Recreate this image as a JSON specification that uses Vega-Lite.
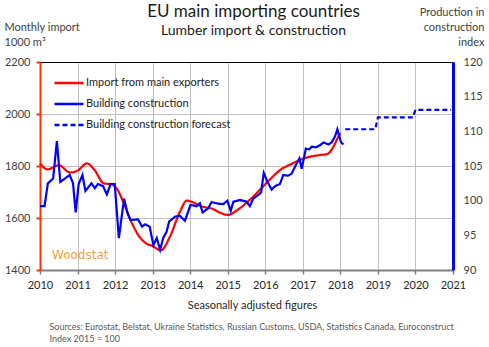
{
  "$schema": "https://vega.github.io/schema/vega-lite/v6.json",
  "width": 413,
  "height": 208,
  "autosize": "none",
  "padding": {"left": 40, "top": 62, "right": 36, "bottom": 77},
  "title": {
    "text": "EU main importing countries",
    "subtitle": "Lumber import & construction",
    "fontSize": 17,
    "subtitleFontSize": 14,
    "fontWeight": "normal",
    "color": "#1a1a1a",
    "subtitleColor": "#1a1a1a",
    "anchor": "middle",
    "frame": "group",
    "dx": 7,
    "dy": 37,
    "subtitlePadding": 3
  },
  "config": {
    "font": "Lato",
    "view": {"stroke": "#000000", "strokeWidth": 1},
    "legend": {
      "orient": "none",
      "legendX": 13,
      "legendY": 5,
      "symbolType": "stroke",
      "symbolSize": 841,
      "symbolStrokeWidth": 2.5,
      "labelFontSize": 11,
      "labelColor": "#222222",
      "labelOffset": 1,
      "rowPadding": -8,
      "padding": 0,
      "title": null
    }
  },
  "datasets": {
    "imp": [
      {"s": "Import from main exporters", "t": 2010.0, "v": 1810},
      {"s": "Import from main exporters", "t": 2010.2, "v": 1787},
      {"s": "Import from main exporters", "t": 2010.5, "v": 1803},
      {"s": "Import from main exporters", "t": 2010.8, "v": 1775},
      {"s": "Import from main exporters", "t": 2011.0, "v": 1782},
      {"s": "Import from main exporters", "t": 2011.25, "v": 1810},
      {"s": "Import from main exporters", "t": 2011.45, "v": 1785},
      {"s": "Import from main exporters", "t": 2011.7, "v": 1733},
      {"s": "Import from main exporters", "t": 2011.9, "v": 1730},
      {"s": "Import from main exporters", "t": 2012.05, "v": 1712},
      {"s": "Import from main exporters", "t": 2012.25, "v": 1650},
      {"s": "Import from main exporters", "t": 2012.45, "v": 1580},
      {"s": "Import from main exporters", "t": 2012.6, "v": 1538},
      {"s": "Import from main exporters", "t": 2012.8, "v": 1505},
      {"s": "Import from main exporters", "t": 2013.0, "v": 1492},
      {"s": "Import from main exporters", "t": 2013.22, "v": 1476},
      {"s": "Import from main exporters", "t": 2013.46, "v": 1528},
      {"s": "Import from main exporters", "t": 2013.73, "v": 1625},
      {"s": "Import from main exporters", "t": 2013.91, "v": 1667},
      {"s": "Import from main exporters", "t": 2014.08, "v": 1660},
      {"s": "Import from main exporters", "t": 2014.3, "v": 1645},
      {"s": "Import from main exporters", "t": 2014.6, "v": 1635},
      {"s": "Import from main exporters", "t": 2014.8, "v": 1620},
      {"s": "Import from main exporters", "t": 2015.0, "v": 1612},
      {"s": "Import from main exporters", "t": 2015.25, "v": 1630},
      {"s": "Import from main exporters", "t": 2015.55, "v": 1665},
      {"s": "Import from main exporters", "t": 2015.9, "v": 1715},
      {"s": "Import from main exporters", "t": 2016.15, "v": 1752},
      {"s": "Import from main exporters", "t": 2016.4, "v": 1785},
      {"s": "Import from main exporters", "t": 2016.7, "v": 1808},
      {"s": "Import from main exporters", "t": 2016.95, "v": 1825},
      {"s": "Import from main exporters", "t": 2017.2, "v": 1836},
      {"s": "Import from main exporters", "t": 2017.45, "v": 1842},
      {"s": "Import from main exporters", "t": 2017.65, "v": 1846},
      {"s": "Import from main exporters", "t": 2017.8, "v": 1870},
      {"s": "Import from main exporters", "t": 2017.92, "v": 1905},
      {"s": "Import from main exporters", "t": 2018.0, "v": 1926}
    ],
    "idx": [
      {"s": "Building construction", "t": 2010.0, "v": 99.2},
      {"s": "Building construction", "t": 2010.12, "v": 99.2},
      {"s": "Building construction", "t": 2010.21, "v": 102.5},
      {"s": "Building construction", "t": 2010.35, "v": 103.2},
      {"s": "Building construction", "t": 2010.45, "v": 108.6},
      {"s": "Building construction", "t": 2010.54, "v": 102.7},
      {"s": "Building construction", "t": 2010.79, "v": 103.7},
      {"s": "Building construction", "t": 2010.88, "v": 102.5},
      {"s": "Building construction", "t": 2010.95, "v": 98.3},
      {"s": "Building construction", "t": 2011.03, "v": 102.4},
      {"s": "Building construction", "t": 2011.13, "v": 103.7},
      {"s": "Building construction", "t": 2011.21, "v": 101.4},
      {"s": "Building construction", "t": 2011.37, "v": 102.5},
      {"s": "Building construction", "t": 2011.46, "v": 101.8},
      {"s": "Building construction", "t": 2011.54, "v": 102.4},
      {"s": "Building construction", "t": 2011.68, "v": 102.1},
      {"s": "Building construction", "t": 2011.78, "v": 100.9},
      {"s": "Building construction", "t": 2011.88, "v": 102.4},
      {"s": "Building construction", "t": 2011.99, "v": 102.4},
      {"s": "Building construction", "t": 2012.1, "v": 94.6},
      {"s": "Building construction", "t": 2012.24, "v": 100.3},
      {"s": "Building construction", "t": 2012.33, "v": 98.2},
      {"s": "Building construction", "t": 2012.41, "v": 97.2},
      {"s": "Building construction", "t": 2012.61, "v": 97.3},
      {"s": "Building construction", "t": 2012.72, "v": 96.25},
      {"s": "Building construction", "t": 2012.8, "v": 96.6},
      {"s": "Building construction", "t": 2012.92, "v": 96.25},
      {"s": "Building construction", "t": 2013.02, "v": 93.6},
      {"s": "Building construction", "t": 2013.11, "v": 94.6},
      {"s": "Building construction", "t": 2013.2, "v": 92.9},
      {"s": "Building construction", "t": 2013.28, "v": 94.6},
      {"s": "Building construction", "t": 2013.37, "v": 95.5},
      {"s": "Building construction", "t": 2013.44, "v": 97.0},
      {"s": "Building construction", "t": 2013.6, "v": 97.7},
      {"s": "Building construction", "t": 2013.73, "v": 97.8},
      {"s": "Building construction", "t": 2013.86, "v": 97.1},
      {"s": "Building construction", "t": 2014.01, "v": 99.4},
      {"s": "Building construction", "t": 2014.17, "v": 99.2},
      {"s": "Building construction", "t": 2014.26, "v": 99.6},
      {"s": "Building construction", "t": 2014.33, "v": 98.3},
      {"s": "Building construction", "t": 2014.48, "v": 98.9},
      {"s": "Building construction", "t": 2014.57, "v": 99.8},
      {"s": "Building construction", "t": 2014.71, "v": 99.6},
      {"s": "Building construction", "t": 2014.88, "v": 99.5},
      {"s": "Building construction", "t": 2014.99, "v": 100.0},
      {"s": "Building construction", "t": 2015.08, "v": 98.55},
      {"s": "Building construction", "t": 2015.15, "v": 99.85},
      {"s": "Building construction", "t": 2015.33, "v": 100.1},
      {"s": "Building construction", "t": 2015.5, "v": 99.85},
      {"s": "Building construction", "t": 2015.59, "v": 99.2},
      {"s": "Building construction", "t": 2015.68, "v": 100.3},
      {"s": "Building construction", "t": 2015.81, "v": 100.8},
      {"s": "Building construction", "t": 2015.89, "v": 101.2},
      {"s": "Building construction", "t": 2015.96, "v": 104.0},
      {"s": "Building construction", "t": 2016.06, "v": 102.7},
      {"s": "Building construction", "t": 2016.17, "v": 101.6},
      {"s": "Building construction", "t": 2016.26, "v": 102.1},
      {"s": "Building construction", "t": 2016.39, "v": 102.4},
      {"s": "Building construction", "t": 2016.48, "v": 103.7},
      {"s": "Building construction", "t": 2016.61, "v": 103.6},
      {"s": "Building construction", "t": 2016.7, "v": 103.9},
      {"s": "Building construction", "t": 2016.84, "v": 105.4},
      {"s": "Building construction", "t": 2016.91, "v": 106.1},
      {"s": "Building construction", "t": 2016.97, "v": 104.6},
      {"s": "Building construction", "t": 2017.08, "v": 107.5},
      {"s": "Building construction", "t": 2017.17, "v": 107.4},
      {"s": "Building construction", "t": 2017.24, "v": 107.8},
      {"s": "Building construction", "t": 2017.35, "v": 107.7},
      {"s": "Building construction", "t": 2017.46, "v": 108.0},
      {"s": "Building construction", "t": 2017.55, "v": 108.4},
      {"s": "Building construction", "t": 2017.68, "v": 108.1},
      {"s": "Building construction", "t": 2017.77, "v": 108.4},
      {"s": "Building construction", "t": 2017.86, "v": 109.3},
      {"s": "Building construction", "t": 2017.92, "v": 110.3},
      {"s": "Building construction", "t": 2017.97, "v": 109.3},
      {"s": "Building construction", "t": 2018.02, "v": 108.4},
      {"s": "Building construction", "t": 2018.08, "v": 108.1},
      {"s": "Building construction forecast", "t": 2018.13, "v": 110.3},
      {"s": "Building construction forecast", "t": 2018.93, "v": 110.3},
      {"s": "Building construction forecast", "t": 2019.0, "v": 112.0},
      {"s": "Building construction forecast", "t": 2019.93, "v": 112.0},
      {"s": "Building construction forecast", "t": 2020.0, "v": 113.1},
      {"s": "Building construction forecast", "t": 2020.95, "v": 113.1}
    ],
    "brand": [
      {"t": 2010.32, "v": 1458, "label": "Woodstat"}
    ]
  },
  "layer": [
    {
      "layer": [
        {
          "data": {"name": "imp"},
          "mark": {"type": "line", "interpolate": "monotone", "strokeWidth": 2.2},
          "encoding": {
            "x": {
              "field": "t", "type": "quantitative",
              "scale": {"domain": [2010, 2021], "nice": false, "zero": false},
              "axis": {
                "orient": "bottom",
                "values": [2010, 2011, 2012, 2013, 2014, 2015, 2016, 2017, 2018, 2019, 2020, 2021],
                "format": "d",
                "labelOverlap": false,
                "grid": true, "gridColor": "#c0c0c0", "gridWidth": 1,
                "domainColor": "#808080", "domainWidth": 2,
                "tickColor": "#808080", "tickSize": 4, "tickWidth": 1.5,
                "labelFontSize": 11, "labelColor": "#262626", "labelPadding": 5,
                "labelFlush": false,
                "title": "Seasonally adjusted figures",
                "titleFontSize": 11, "titleFontWeight": "normal", "titleColor": "#262626",
                "titleX": 212, "titleY": 35, "titleBaseline": "middle", "titleAnchor": null
              }
            },
            "y": {
              "field": "v", "type": "quantitative",
              "scale": {"domain": [1400, 2200], "nice": false, "zero": false},
              "axis": {
                "orient": "left",
                "values": [1400, 1600, 1800, 2000, 2200],
                "format": "d",
                "grid": true,
                "gridColor": {"condition": {"test": "datum.value == 2200", "value": "#000000"}, "value": "#c0c0c0"},
                "gridWidth": 1,
                "domainColor": "#ff3300", "domainWidth": 2,
                "tickColor": "#ff3300", "tickSize": 4, "tickWidth": 2,
                "labelFontSize": 11, "labelColor": "#404040", "labelPadding": 6,
                "labelFlush": false,
                "title": ["Monthly import", "1000 m³"],
                "titleAngle": 0, "titleAlign": "left", "titleBaseline": "middle",
                "titleX": -36, "titleY": -35, "titleLineHeight": 15,
                "titleFontSize": 11, "titleFontWeight": "normal", "titleColor": "#404040"
              }
            },
            "color": {
              "field": "s", "type": "nominal",
              "scale": {
                "domain": ["Import from main exporters", "Building construction", "Building construction forecast"],
                "range": ["#ff0000", "#0000ff", "#0000ff"]
              },
              "legend": {"title": null}
            },
            "strokeDash": {
              "field": "s", "type": "nominal",
              "scale": {
                "domain": ["Import from main exporters", "Building construction", "Building construction forecast"],
                "range": [[1, 0], [1, 0], [5, 3]]
              },
              "legend": {"title": null}
            }
          }
        },
        {
          "data": {"name": "brand"},
          "mark": {"type": "text", "align": "left", "baseline": "middle", "color": "#f5a030", "fontSize": 12, "font": "DejaVu Sans"},
          "encoding": {
            "x": {
              "field": "t", "type": "quantitative",
              "axis": {
                "orient": "bottom",
                "values": [2010, 2011, 2012, 2013, 2014, 2015, 2016, 2017, 2018, 2019, 2020, 2021],
                "format": "d",
                "labelOverlap": false,
                "grid": true, "gridColor": "#c0c0c0", "gridWidth": 1,
                "domainColor": "#808080", "domainWidth": 2,
                "tickColor": "#808080", "tickSize": 4, "tickWidth": 1.5,
                "labelFontSize": 11, "labelColor": "#262626", "labelPadding": 5,
                "labelFlush": false,
                "title": "Seasonally adjusted figures",
                "titleFontSize": 11, "titleFontWeight": "normal", "titleColor": "#262626",
                "titleX": 212, "titleY": 35, "titleBaseline": "middle", "titleAnchor": null
              }
            },
            "y": {
              "field": "v", "type": "quantitative",
              "axis": {
                "orient": "left",
                "values": [1400, 1600, 1800, 2000, 2200],
                "format": "d",
                "grid": true,
                "gridColor": {"condition": {"test": "datum.value == 2200", "value": "#000000"}, "value": "#c0c0c0"},
                "gridWidth": 1,
                "domainColor": "#ff3300", "domainWidth": 2,
                "tickColor": "#ff3300", "tickSize": 4, "tickWidth": 2,
                "labelFontSize": 11, "labelColor": "#404040", "labelPadding": 6,
                "labelFlush": false,
                "title": ["Monthly import", "1000 m³"],
                "titleAngle": 0, "titleAlign": "left", "titleBaseline": "middle",
                "titleX": -36, "titleY": -35, "titleLineHeight": 15,
                "titleFontSize": 11, "titleFontWeight": "normal", "titleColor": "#404040"
              }
            },
            "text": {"field": "label"}
          }
        }
      ]
    },
    {
      "data": {"name": "idx"},
      "mark": {"type": "line", "strokeWidth": 2.2},
      "encoding": {
        "x": {
          "field": "t", "type": "quantitative",
          "axis": {
            "orient": "bottom",
            "labels": false, "ticks": false, "domain": false, "grid": false,
            "title": ["Sources: Eurostat, Belstat, Ukraine Statistics, Russian Customs, USDA, Statistics Canada, Euroconstruct", "Index 2015 = 100"],
            "titleAlign": "left", "titleAnchor": null, "titleX": 9, "titleY": 56,
            "titleBaseline": "middle", "titleLineHeight": 12,
            "titleFontSize": 9, "titleFontWeight": "normal", "titleColor": "#595959"
          }
        },
        "y": {
          "field": "v", "type": "quantitative",
          "scale": {"domain": [90, 120], "nice": false, "zero": false},
          "axis": {
            "orient": "right",
            "values": [90, 95, 100, 105, 110, 115, 120],
            "grid": false, "ticks": false,
            "domainColor": "#0000ff", "domainWidth": 3,
            "labelFontSize": 11, "labelColor": "#404040", "labelPadding": 10,
            "labelFlush": false,
            "title": ["Production in", "construction", "index"],
            "titleAngle": 0, "titleAlign": "right", "titleBaseline": "middle",
            "titleX": 31, "titleY": -50, "titleLineHeight": 15,
            "titleFontSize": 11, "titleFontWeight": "normal", "titleColor": "#404040"
          }
        },
        "color": {
          "field": "s", "type": "nominal",
          "scale": {
            "domain": ["Import from main exporters", "Building construction", "Building construction forecast"],
            "range": ["#ff0000", "#0000ff", "#0000ff"]
          },
          "legend": {"title": null}
        },
        "strokeDash": {
          "field": "s", "type": "nominal",
          "scale": {
            "domain": ["Import from main exporters", "Building construction", "Building construction forecast"],
            "range": [[1, 0], [1, 0], [5, 3]]
          },
          "legend": {"title": null}
        }
      }
    }
  ],
  "resolve": {"scale": {"y": "independent"}, "axis": {"x": "independent"}}
}
